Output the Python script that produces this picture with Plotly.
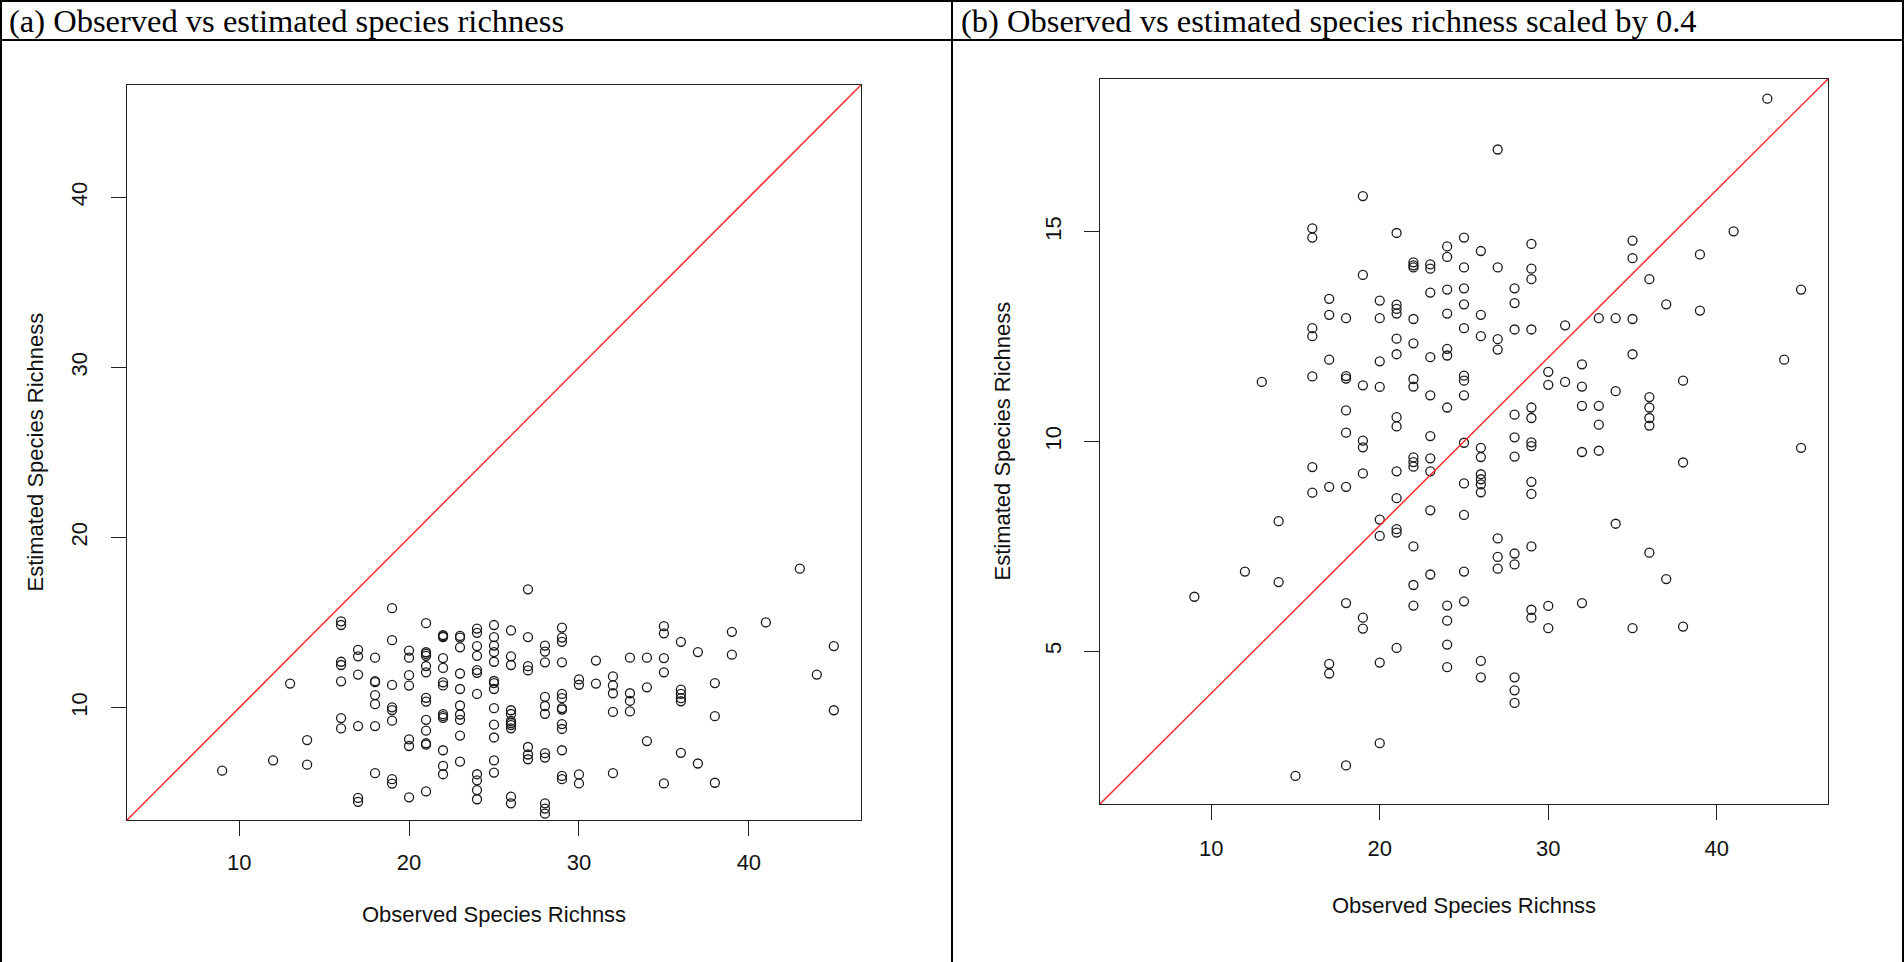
import plotly.graph_objects as go

# Observed vs estimated species richness per site
observed = (
    [9, 12, 13, 14, 14, 15]
    + [16] * 7 + [17] * 6 + [18] * 8 + [19] * 8 + [20] * 8
    + [21] * 13 + [22] * 13 + [23] * 10 + [24] * 11 + [25] * 13
    + [26] * 11 + [27] * 7 + [28] * 11 + [29] * 13 + [30] * 4
    + [31] * 2 + [32] * 5 + [33] * 4 + [34] * 3 + [35] * 5
    + [36] * 6 + [37] * 2 + [38] * 3 + [39] * 2
    + [41, 43, 44, 45, 45]
)
estimated = [
    6.30, 6.90, 11.42, 8.10, 6.65, 2.03,
    15.08, 14.86, 12.70, 12.51, 11.55, 9.39, 8.78,
    13.40, 13.02, 11.95, 8.92, 4.70, 4.47,
    12.94, 11.56, 11.50, 10.74, 10.21, 8.92, 6.15, 2.28,
    15.85, 13.97, 11.34, 10.02, 9.86, 9.24, 5.80, 5.54,
    13.36, 12.94, 11.91, 11.30, 8.14, 7.75, 4.73, 2.81,
    14.97, 13.26, 13.16, 13.05, 12.45, 12.08, 10.58, 10.36, 9.29, 8.65, 7.91, 7.83, 5.08,
    14.27, 14.20, 14.15, 12.92, 12.34, 11.49, 11.31, 9.62, 9.51, 9.40, 7.50, 6.58, 6.09,
    14.22, 14.12, 13.55, 12.01, 11.10, 10.13, 9.60, 9.29, 8.36, 6.83,
    14.65, 14.40, 13.62, 13.05, 12.21, 12.05, 10.81, 6.09, 5.73, 5.16, 4.62,
    14.86, 14.15, 13.65, 13.27, 12.70, 11.57, 11.45, 11.10, 9.97, 9.00, 8.25, 6.90, 6.19,
    14.54, 13.02, 12.51, 9.85, 9.63, 9.22, 9.10, 8.98, 8.79, 4.77, 4.38,
    16.96, 14.15, 12.44, 12.19, 7.69, 7.25, 6.97,
    13.65, 13.30, 12.67, 10.64, 10.10, 9.64, 7.33, 7.07, 4.38, 4.07, 3.77,
    14.71, 14.12, 13.87, 12.67, 10.81, 10.56, 9.98, 9.89, 9.04, 8.75, 7.50, 5.99, 5.80,
    11.66, 11.35, 6.08, 5.55,
    12.77, 11.42,
    11.84, 11.31, 10.85, 9.75, 6.15,
    12.94, 10.85, 10.40, 9.78,
    12.94, 11.20, 8.04,
    14.79, 14.37, 12.92, 12.08, 5.55,
    13.87, 11.06, 10.81, 10.56, 10.38, 7.35,
    13.27, 6.72,
    11.45, 9.50, 5.59,
    14.46, 13.12,
    15.01, 18.17, 11.95, 13.62, 9.85,
]

x_range = [3.4, 46.6]
y_range_a = [3.4, 46.6]
y_range_b = [1.36, 18.64]
scale_b = 0.4
x_ticks = [10, 20, 30, 40]
y_ticks_a = [10, 20, 30, 40]
y_ticks_b = [5, 10, 15]

W, H = 1904, 962


def px(x):
    return x / W


def py(y):
    return 1 - y / H


# plot boxes in pixels: (left, top, right, bottom)
box_a = (127, 85, 861, 820)
box_b = (1100, 79, 1828, 804)

sans = "Liberation Sans, Arial, sans-serif"
serif = "Liberation Serif, Times New Roman, serif"
tick_font = dict(family=sans, size=22, color="#111111")

fig = go.Figure()

marker = dict(symbol="circle-open", size=9, color="#1a1a1a", line=dict(width=1.3))

fig.add_trace(go.Scatter(x=observed, y=estimated, mode="markers", marker=marker,
                         xaxis="x", yaxis="y", showlegend=False))
fig.add_trace(go.Scatter(x=x_range, y=x_range, mode="lines",
                         line=dict(color="#ff2a2a", width=1.5),
                         xaxis="x", yaxis="y", showlegend=False))
fig.add_trace(go.Scatter(x=observed, y=estimated, mode="markers", marker=marker,
                         xaxis="x2", yaxis="y2", showlegend=False))
fig.add_trace(go.Scatter(x=x_range, y=[v * scale_b for v in x_range], mode="lines",
                         line=dict(color="#ff2a2a", width=1.5),
                         xaxis="x2", yaxis="y2", showlegend=False))

axis_common = dict(
    showgrid=False, zeroline=False, showline=True, mirror=True,
    linecolor="#222222", linewidth=1.3, ticks="outside", ticklen=15,
    tickwidth=1.3, tickcolor="#222222", tickfont=tick_font,
)

fig.update_layout(
    width=W, height=H,
    margin=dict(l=0, r=0, t=0, b=0),
    paper_bgcolor="white", plot_bgcolor="white",
    xaxis=dict(domain=[px(box_a[0]), px(box_a[2])], range=x_range,
               tickvals=x_ticks, anchor="y", ticklabelstandoff=7, **axis_common),
    yaxis=dict(domain=[py(box_a[3]), py(box_a[1])], range=y_range_a,
               tickvals=y_ticks_a, anchor="x", tickangle=-90,
               ticklabelstandoff=15, **axis_common),
    xaxis2=dict(domain=[px(box_b[0]), px(box_b[2])], range=x_range,
                tickvals=x_ticks, anchor="y2", ticklabelstandoff=9, **axis_common),
    yaxis2=dict(domain=[py(box_b[3]), py(box_b[1])], range=y_range_b,
                tickvals=y_ticks_b, anchor="x2", tickangle=-90,
                ticklabelstandoff=14, **axis_common),
)

title_font = dict(family=sans, size=22, color="#111111")
annotations = [
    dict(text="Observed Species Richnss", x=px((box_a[0] + box_a[2]) / 2),
         y=py(box_a[3] + 94), font=title_font),
    dict(text="Estimated Species Richness", x=px(box_a[0] - 92),
         y=py((box_a[1] + box_a[3]) / 2), textangle=-90, font=title_font),
    dict(text="Observed Species Richnss", x=px((box_b[0] + box_b[2]) / 2),
         y=py(box_b[3] + 101), font=title_font),
    dict(text="Estimated Species Richness", x=px(box_b[0] - 98),
         y=py((box_b[1] + box_b[3]) / 2), textangle=-90, font=title_font),
    dict(text="(a) Observed vs estimated species richness", x=px(7), y=py(21),
         xanchor="left", font=dict(family=serif, size=32.5, color="black")),
    dict(text="(b) Observed vs estimated species richness scaled by 0.4",
         x=px(959), y=py(21), xanchor="left",
         font=dict(family=serif, size=32.5, color="black")),
]
for a in annotations:
    a.setdefault("xanchor", "center")
    a.update(xref="paper", yref="paper", yanchor="middle", showarrow=False)
fig.update_layout(annotations=annotations)

# table frame around the two panels
border = dict(color="black", width=2)
shapes = [
    dict(type="line", x0=0, x1=1, y0=py(1), y1=py(1), line=border),
    dict(type="line", x0=0, x1=1, y0=py(40), y1=py(40), line=border),
    dict(type="line", x0=px(1), x1=px(1), y0=0, y1=1, line=border),
    dict(type="line", x0=px(952), x1=px(952), y0=0, y1=1, line=border),
    dict(type="line", x0=px(1903), x1=px(1903), y0=0, y1=1, line=border),
]
for s in shapes:
    s.update(xref="paper", yref="paper")
fig.update_layout(shapes=shapes)

fig.write_html("out.html")
